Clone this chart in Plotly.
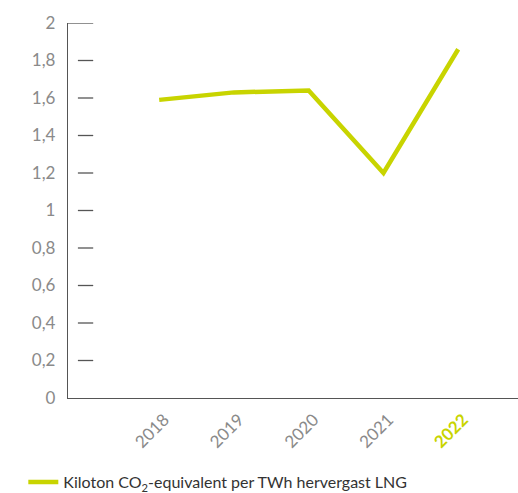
import plotly.graph_objects as go

years = ["2018", "2019", "2020", "2021", "2022"]
values = [1.59, 1.63, 1.64, 1.20, 1.86]
series_name = "Kiloton CO<sub>2</sub>-equivalent per TWh hervergast LNG"
y_tick_vals = [0, 0.2, 0.4, 0.6, 0.8, 1.0, 1.2, 1.4, 1.6, 1.8, 2.0]
y_tick_text = ["0", "0,2", "0,4", "0,6", "0,8", "1", "1,2", "1,4", "1,6", "1,8", "2"]

GREEN = "#c8d400"
GRAY = "#8a8a8a"
AXIS = "#555555"
FONT = "Lato"

x_idx = list(range(len(years)))
x_text = [f"<b><span style='color:{GREEN}'>{y}</span></b>" if i == len(years) - 1 else y
          for i, y in enumerate(years)]

fig = go.Figure()
fig.add_trace(go.Scatter(
    x=x_idx, y=values, mode="lines", name=series_name,
    line=dict(color=GREEN, width=4.5),
))

shapes = []
for v in y_tick_vals[1:]:
    x0 = 0.0 if v == max(y_tick_vals) else 0.022
    shapes.append(dict(type="line", xref="x domain", yref="y", x0=x0, x1=0.056,
                       y0=v, y1=v, line=dict(color=AXIS, width=1.3)))

fig.update_layout(
    width=518, height=493,
    margin=dict(l=68, r=0, t=23, b=95, autoexpand=False),
    paper_bgcolor="white", plot_bgcolor="white",
    font=dict(family=FONT, color=GRAY, size=17),
    showlegend=True,
    legend=dict(orientation="h", xref="container", yref="container",
                x=0.045, y=0.022, xanchor="left", yanchor="middle",
                font=dict(size=16, color="#333333", family=FONT),
                itemwidth=30),
    xaxis=dict(range=[-1.22, 4.8], tickvals=x_idx, ticktext=x_text,
               tickangle=-45, showgrid=False, zeroline=False,
               showline=True, linecolor=AXIS, linewidth=1.3, automargin=False,
               ticks="", ticklabelshift=5, ticklabelstandoff=4,
               tickfont=dict(size=17, color=GRAY, family=FONT)),
    yaxis=dict(range=[0, 2], tickvals=y_tick_vals, ticktext=y_tick_text,
               showgrid=False, zeroline=False, showline=True, automargin=False,
               linecolor=AXIS, linewidth=1.3, ticks="",
               ticklabelstandoff=8,
               tickfont=dict(size=17, color=GRAY, family=FONT)),
    shapes=shapes,
)

fig.write_html("out.html", config={"displayModeBar": False},
               post_script="document.body.style.margin='0';document.body.style.overflow='hidden';")
